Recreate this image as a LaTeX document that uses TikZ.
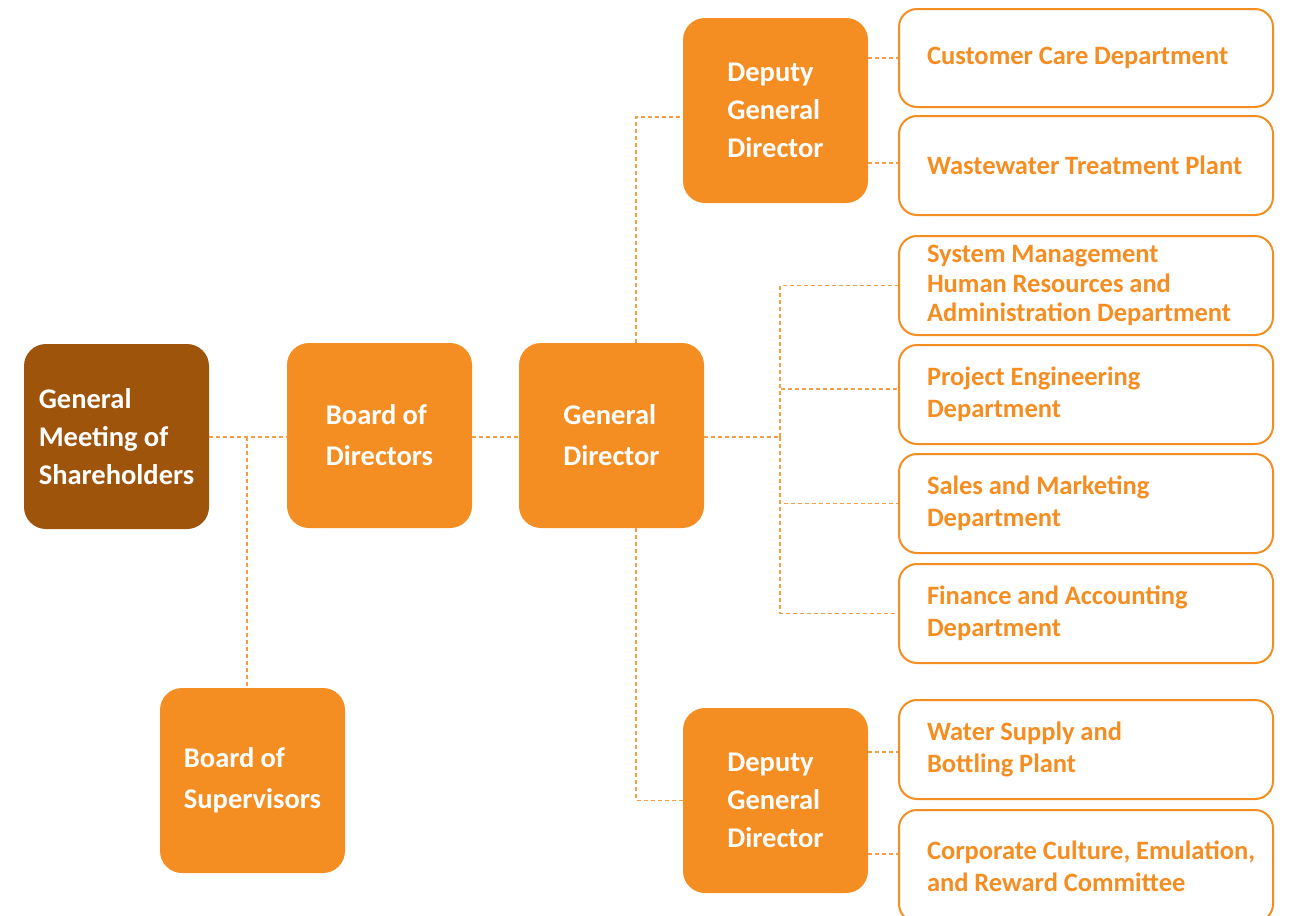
\documentclass[tikz,border=0pt]{standalone}
\usepackage{fontspec}
\setmainfont{Carlito}
\usetikzlibrary{positioning}
\definecolor{mainOrange}{HTML}{F58E22}
\definecolor{darkBrown}{HTML}{9F540B}
\definecolor{lineOrange}{HTML}{F59D45}
\hbadness=10000
\hfuzz=40pt
\begin{document}
\begin{tikzpicture}[x=1pt,y=-1pt,
  filledbox/.style={rectangle, rounded corners=22pt, fill=mainOrange, text=white, minimum width=185pt, minimum height=185pt, align=left, font=\bfseries\fontsize{28.5}{38}\selectfont, execute at begin node={\spaceskip=0.22em\relax}},
  deptbox/.style={rectangle, rounded corners=18pt, draw=mainOrange, line width=2pt, fill=white, text=mainOrange, minimum width=373pt, text width=318pt, inner xsep=28pt, align=left, font=\bfseries\fontsize{26.5}{32}\selectfont, execute at begin node={\spaceskip=0.22em\relax}},
  link/.style={draw=lineOrange, line width=1.4pt, dash pattern=on 4pt off 3pt}]

\draw[use as bounding box, draw=none] (0,0) rectangle (1294,916);

% Boxes
\draw (116.5,436.5) node [filledbox, fill=darkBrown] (shareholders) {General\\Meeting of\\Shareholders};
\draw (379.5,435.5) node [filledbox, font=\bfseries\fontsize{28.5}{41}\selectfont] (boardDirectors) {Board of\\Directors};
\draw (611.5,435.5) node [filledbox, font=\bfseries\fontsize{28.5}{41}\selectfont] (generalDirector) {General\\Director};
\draw (252.5,780.5) node [filledbox, font=\bfseries\fontsize{28.5}{41}\selectfont] (boardSupervisors) {Board of\\Supervisors};
\draw (775.5,110.5) node [filledbox] (deputyTop) {Deputy\\General\\Director};
\draw (775.5,800.5) node [filledbox] (deputyBottom) {Deputy\\General\\Director};

% Departments
\draw (1086,58) node [deptbox, minimum height=98pt] (customerCare) {Customer Care Department};
\draw (1086,165.5) node [deptbox, minimum height=99pt] (wastewater) {Wastewater Treatment Plant};
\draw (1086,285.5) node [deptbox, minimum height=99pt, font=\bfseries\fontsize{26.5}{29.5}\selectfont] (systemMgmt) {System Management\\Human Resources and\\Administration Department};
\draw (1086,394.5) node [deptbox, minimum height=99pt] (projectEng) {Project Engineering\\Department};
\draw (1086,503.5) node [deptbox, minimum height=99pt] (sales) {Sales and Marketing\\Department};
\draw (1086,613.5) node [deptbox, minimum height=99pt] (finance) {Finance and Accounting\\Department};
\draw (1086,749.5) node [deptbox, minimum height=99pt] (waterSupply) {Water Supply and\\Bottling Plant};
\draw (1086,866) node [deptbox, minimum height=112pt] (corporate) {\mbox{Corporate Culture, Emulation,}\\and Reward Committee};

% Lines
\coordinate (split) at (247,437);
\coordinate (hub) at (780,437);
\draw [link] (shareholders.east |- split)--(boardDirectors.west |- split);
\draw [link] (split)--(boardSupervisors.north -| split);
\draw [link] (boardDirectors.east |- split)--(generalDirector.west |- split);
\draw [link] ([xshift=24.5pt]generalDirector.north) |- ([yshift=-6.5pt]deputyTop.west);
\draw [link] ([xshift=24.5pt]generalDirector.south) |- (deputyBottom.west);
\draw [link] (generalDirector.east |- hub)--(hub);
\draw [link] (hub) |- (systemMgmt.west);
\draw [link] (hub) |- ([yshift=5.5pt]projectEng.west);
\draw [link] (hub) |- (sales.west);
\draw [link] (hub) |- (finance.west);
\draw [link] (deputyTop.east |- customerCare.west)--(customerCare.west);
\draw [link] ([yshift=2.5pt]deputyTop.east |- wastewater.west)--([yshift=2.5pt]wastewater.west);
\draw [link] ([yshift=-2.5pt]deputyBottom.east |- waterSupply.west)--([yshift=-2.5pt]waterSupply.west);
\draw [link] ([yshift=12pt]deputyBottom.east |- corporate.west)--([yshift=12pt]corporate.west);
\end{tikzpicture}
\end{document}
